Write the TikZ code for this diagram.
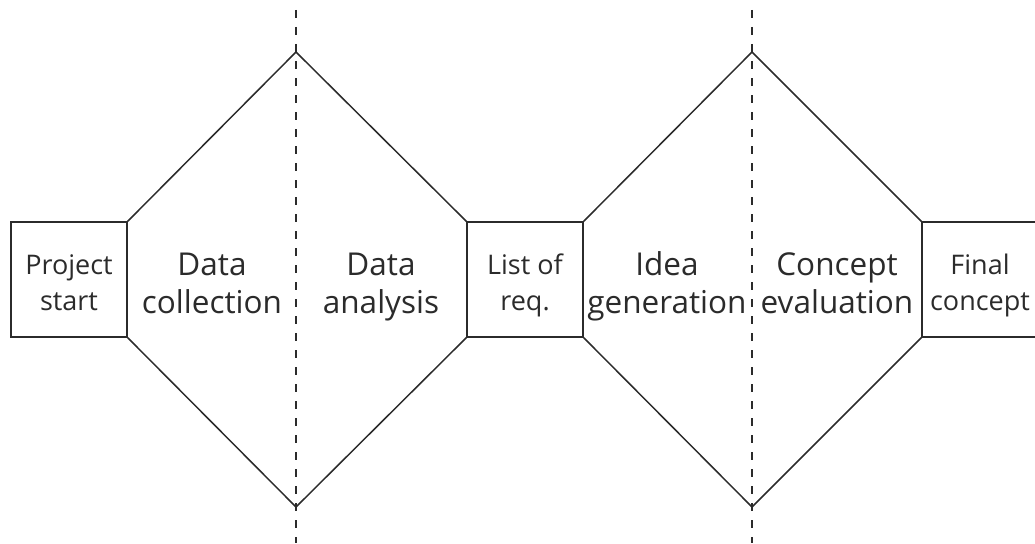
\documentclass[tikz,border=0pt]{standalone}
\usepackage{fontspec}
\setmainfont{Open Sans}
\usetikzlibrary{positioning}

\definecolor{ink}{HTML}{2B2B2B}

\tikzset{
    milestone/.style={draw=ink, line width=1.5pt, minimum width=116pt, minimum height=115pt, inner sep=0pt},
    mtext/.style={text=ink, align=center, font=\fontsize{27}{36}\selectfont, inner sep=0pt,
                  execute at begin node=\strut, execute at end node=\strut},
    phase/.style={text=ink, align=center, font=\fontsize{31.5}{38}\selectfont, inner sep=0pt,
                  execute at begin node=\strut, execute at end node=\strut},
    edge/.style={draw=ink, line width=1.5pt, line join=miter},
    divider/.style={draw=ink, line width=1.5pt, dash pattern=on 8pt off 9pt}
}

\begin{document}
\begin{tikzpicture}[x=1pt,y=-1pt]
            \useasboundingbox (0,0) rectangle (1035,543);
            \clip (0,0) rectangle (1035,543);

            % Milestones
            \node[milestone] (start) at (69,279.5)  {};
            \node[milestone] (req)   at (525,279.5) {};
            \node[milestone] (final) at (980,279.5) {};
            \node[mtext] (start-t) at ([yshift=-8pt]start) {Project\\start};
            \node[mtext] (req-t)   at ([yshift=-8pt]req)   {List of\\req.};
            \node[mtext] (final-t) at ([yshift=-8pt]final) {Final\\concept};

            % Diamond tips
            \coordinate (top1) at (296,52);
            \coordinate (bot1) at (296,507);
            \coordinate (top2) at (752,52);
            \coordinate (bot2) at (752,507);

            % Phases
            \node[phase] (collect) at (212,288.5) {Data\\collection};
            \node[phase] (analyse) at (381,288.5) {Data\\analysis};
            \node[phase] (ideas)   at (667,288.5) {Idea\\generation};
            \node[phase] (eval)    at (837,288.5) {Concept\\evaluation};

            \draw[edge] (start.north east) -- (top1) -- (req.north west);
            \draw[edge] (start.south east) -- (bot1) -- (req.south west);
            \draw[edge] (req.north east) -- (top2) -- (final.north west);
            \draw[edge] (req.south east) -- (bot2) -- (final.south west);

            % Dividers
            \draw[divider] (296,10) -- (top1) -- (bot1) -- (296,543);
            \draw[divider] (752,10) -- (top2) -- (bot2) -- (752,543);
\end{tikzpicture}
\end{document}
